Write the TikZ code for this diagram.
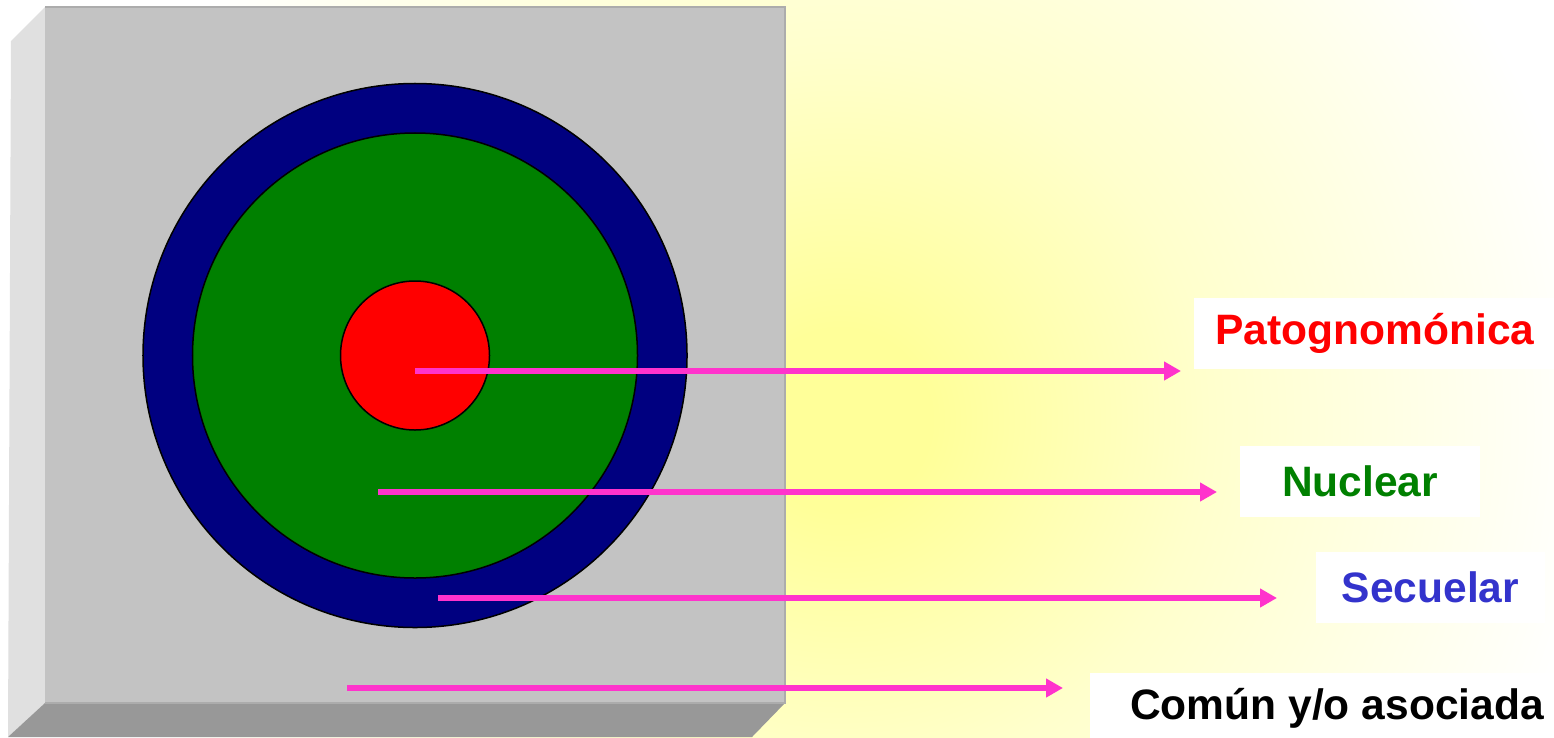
\documentclass[tikz,border=0pt]{standalone}
\usepackage{fontspec}
\setmainfont{Liberation Sans}
\usetikzlibrary{arrows.meta}
\definecolor{facegray}{HTML}{C3C3C3}
\definecolor{leftgray}{HTML}{E0E0E0}
\definecolor{bottomgray}{HTML}{989898}
\definecolor{edgegray}{HTML}{ACACAC}
\definecolor{navyring}{HTML}{000080}
\definecolor{greenring}{HTML}{008000}
\definecolor{redcore}{HTML}{FF0000}
\definecolor{arrowpink}{HTML}{FF33CC}
\definecolor{secblue}{HTML}{3333CC}
\definecolor{paleyellow}{HTML}{FFFF99}
\definecolor{midyellow}{HTML}{FFFFCC}
\pgfdeclareradialshading{glow}{\pgfpoint{0bp}{0bp}}{color(0bp)=(paleyellow); color(3bp)=(paleyellow); color(12bp)=(midyellow); color(25bp)=(white); color(50bp)=(white)}
\tikzset{
  ring/.style={draw=black, line width=0.3mm},
  pointer/.style={draw=arrowpink, line width=1.1mm, -{Triangle[length=3.4mm,width=3.6mm]}},
  labelbox/.style={fill=white, inner sep=0pt, font=\bfseries\fontsize{24.2}{28}\selectfont, minimum height=14.2mm}
}
\begin{document}
\begin{tikzpicture}[x=0.2mm,y=-0.2mm]
\useasboundingbox (0,0) rectangle (1554,737);
% background radial gradient
\begin{scope}
  \clip (0,0) rectangle (1554,737);
  \fill[white] (0,0) rectangle (1554,737);
  \shade[shading=glow] (840,420) circle[radius=760];
\end{scope}
% bevelled box
\fill[leftgray] (45,7) -- (11,41) -- (8,737) -- (45,703) -- cycle;
\fill[bottomgray] (45,703) -- (785,703) -- (752,737) -- (8,737) -- cycle;
\fill[facegray] (45,7) rectangle (785,703);
\draw[edgegray, line width=0.4mm] (45,7) -- (785,7) -- (785,703) -- (45,703);
% concentric circles
\node[ring, circle, fill=navyring, minimum size=108.8mm, inner sep=0pt] (outer) at (415,355.5) {};
\node[ring, circle, fill=greenring, minimum size=89mm, inner sep=0pt] (middle) at (415,355.5) {};
\node[ring, circle, fill=redcore, minimum size=29.8mm, inner sep=0pt] (core) at (415,355.5) {};
% labels
\node[labelbox, text=redcore, minimum width=72.4mm] (pat) at (1375,333.5) {Patognomónica};
\node[labelbox, text=greenring, minimum width=48mm] (nuc) at (1360,481.5) {Nuclear};
\node[labelbox, text=secblue, minimum width=45.8mm] (sec) at (1430.5,587.5) {Secuelar};
\node[labelbox, text=black, minimum width=99mm] (com) at (1337,708.5) {Común y/o asociada};
% arrow endpoints
\coordinate (s1) at (415,371);  \coordinate (e1) at (1181,371);
\coordinate (s2) at (378,492);  \coordinate (e2) at (1217,492);
\coordinate (s3) at (438,598);  \coordinate (e3) at (1277,598);
\coordinate (s4) at (347,688);  \coordinate (e4) at (1063,688);
\draw[pointer] (s1) -- (e1);
\draw[pointer] (s2) -- (e2);
\draw[pointer] (s3) -- (e3);
\draw[pointer] (s4) -- (e4);
\end{tikzpicture}
\end{document}
